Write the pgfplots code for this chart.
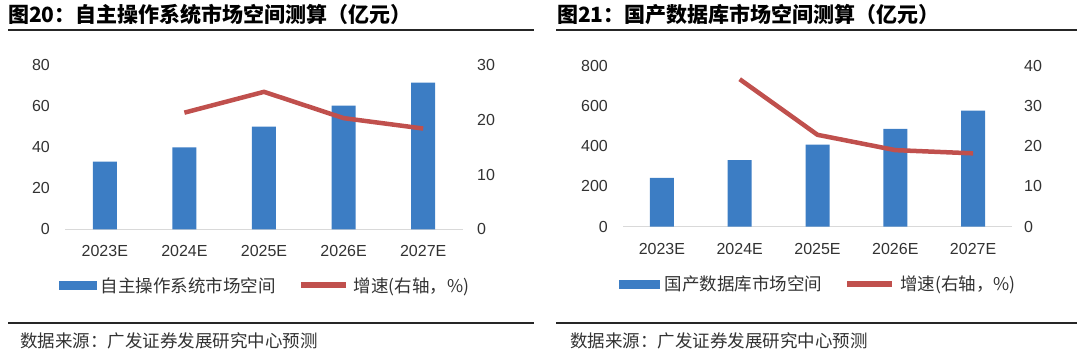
\documentclass[border=0pt]{standalone}
\usepackage{pgfplots}
\pgfplotsset{compat=1.18}
\usepackage{fontspec}
\setmainfont{Liberation Sans}
\newfontfamily\cjk{Noto Sans CJK SC}
\definecolor{barblue}{RGB}{60,125,196}
\definecolor{lnred}{RGB}{192,80,77}
\definecolor{basegray}{RGB}{217,217,217}
\definecolor{txt}{RGB}{50,50,50}
\pgfplotsset{
  base/.style={
    scale only axis,
    xmin=-0.5, xmax=4.5,
    axis line style={draw=none},
    major tick length=0pt,
    tick style={draw=none},
    /pgf/number format/assume math mode=true,
    ticklabel style={font=\fontsize{16}{18}\selectfont, text=txt, inner sep=0pt},
    xticklabel style={anchor=north, yshift=-16pt},
    clip=false,
  },
  lgd/.style={
    legend columns=2,
    legend cell align=left,
    legend style={draw=none, fill=none, inner sep=0pt, anchor=center,
      column sep=5pt,
      /tikz/every even column/.append style={column sep=22pt},
      nodes={inner sep=0pt, font=\cjk\fontsize{17.5}{20}\selectfont, text=txt}},
  },
}
\begin{document}
\begin{tikzpicture}
\useasboundingbox (0pt,0pt) rectangle (1080pt,354pt);
% titles
\node[anchor=west, inner sep=0pt, font=\cjk\bfseries\fontsize{21}{24}\selectfont] at (8pt,339.5pt) {图20：自主操作系统市场空间测算（亿元）};
\node[anchor=west, inner sep=0pt, font=\cjk\bfseries\fontsize{21}{24}\selectfont] at (557pt,339.5pt) {图21：国产数据库市场空间测算（亿元）};
\draw[line width=1.8pt, black!85] (8pt,324pt) -- (534pt,324pt);
\draw[line width=1.8pt, black!85] (556pt,324pt) -- (1077pt,324pt);
\draw[line width=1.8pt, black!85] (8pt,30.7pt) -- (534pt,30.7pt);
\draw[line width=1.8pt, black!85] (556pt,30.7pt) -- (1077pt,30.7pt);
\node[anchor=west, inner sep=0pt, text=txt, font=\cjk\fontsize{17.5}{20}\selectfont] at (20pt,13pt) {数据来源：广发证券发展研究中心预测};
\node[anchor=west, inner sep=0pt, text=txt, font=\cjk\fontsize{17.5}{20}\selectfont] at (570pt,13pt) {数据来源：广发证券发展研究中心预测};

% ---------- left chart ----------
\begin{axis}[base, at={(65pt,124.7pt)}, anchor=south west,
  width=398pt, height=164.3pt,
  ymin=0, ymax=80, ytick={0,20,40,60,80},
  yticklabel style={anchor=east, xshift=-15pt},
  xtick={0,1,2,3,4}, xticklabels={2023E,2024E,2025E,2026E,2027E}]
  \draw[basegray, line width=1pt] (rel axis cs:0,0) -- (rel axis cs:1,0);
  \addplot[ybar, bar width=24pt, fill=barblue, draw=none] coordinates {(0,32.9) (1,39.9) (2,50.0) (3,60.2) (4,71.4)};
\end{axis}
\begin{axis}[base, lgd, at={(65pt,124.7pt)}, anchor=south west,
  width=398pt, height=164.3pt,
  ymin=0, ymax=30, ytick={0,10,20,30},
  yticklabel pos=right,
  yticklabel style={anchor=west, xshift=14pt},
  xtick=\empty,
  legend style={at={(0.5,-0.342)}}]
  \addlegendimage{legend image code/.code={\fill[barblue] (0pt,-3.8pt) rectangle (37pt,3.8pt);}}
  \addlegendentry{自主操作系统市场空间}
  \addplot[lnred, line width=4.5pt, line join=round,
    legend image code/.code={\draw[lnred, line width=6pt] (0pt,0pt) -- (45pt,0pt);}]
    coordinates {(1,21.3) (2,25.1) (3,20.3) (4,18.4)};
  \addlegendentry{增速(右轴，\%)}
\end{axis}

% ---------- right chart ----------
\begin{axis}[base, at={(623pt,127.3pt)}, anchor=south west,
  width=389pt, height=161.2pt,
  ymin=0, ymax=800, ytick={0,200,400,600,800},
  yticklabel style={anchor=east, xshift=-15pt},
  xtick={0,1,2,3,4}, xticklabels={2023E,2024E,2025E,2026E,2027E}]
  \draw[basegray, line width=1pt] (rel axis cs:0,0) -- (rel axis cs:1,0);
  \addplot[ybar, bar width=24pt, fill=barblue, draw=none] coordinates {(0,242) (1,331) (2,407) (3,486) (4,576)};
\end{axis}
\begin{axis}[base, lgd, at={(623pt,127.3pt)}, anchor=south west,
  width=389pt, height=161.2pt,
  ymin=0, ymax=40, ytick={0,10,20,30,40},
  yticklabel pos=right,
  yticklabel style={anchor=west, xshift=12pt},
  xtick=\empty,
  legend style={at={(0.5,-0.356)}}]
  \addlegendimage{legend image code/.code={\fill[barblue] (0pt,-3.8pt) rectangle (40pt,3.8pt);}}
  \addlegendentry{国产数据库市场空间}
  \addplot[lnred, line width=4.5pt, line join=round,
    legend image code/.code={\draw[lnred, line width=6pt] (0pt,0pt) -- (45pt,0pt);}]
    coordinates {(1,36.6) (2,22.8) (3,19.0) (4,18.2)};
  \addlegendentry{增速(右轴，\%)}
\end{axis}
\end{tikzpicture}
\end{document}
